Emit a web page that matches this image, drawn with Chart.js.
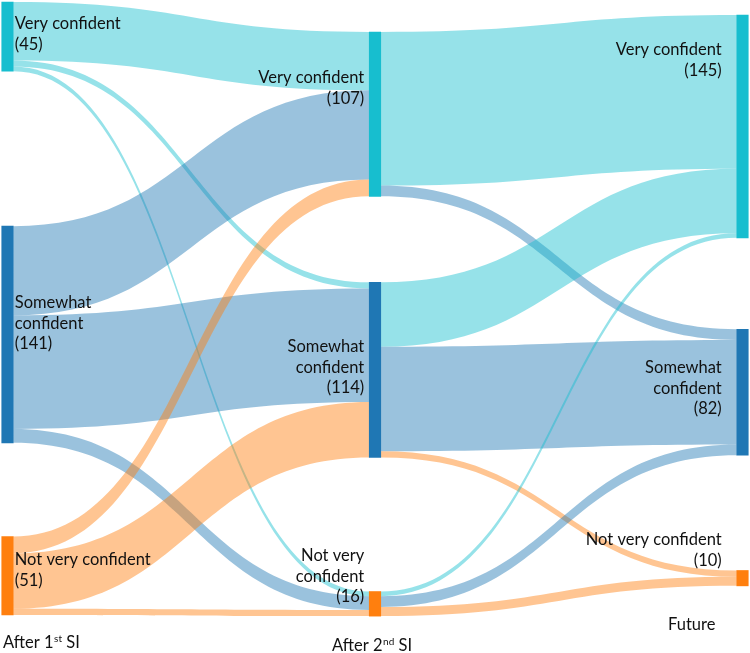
<!DOCTYPE html>
<html lang="en">
<head>
<meta charset="UTF-8">
<title>Confidence flow</title>
<script src="https://cdn.jsdelivr.net/npm/chart.js"></script>
<style>
    html, body { margin: 0; padding: 0; background: #ffffff; }
    #wrap { width: 750px; height: 653px; }
</style>
</head>
<body>
<div id="wrap"><canvas id="sankey" width="750" height="653"></canvas></div>
<script>
    // data
    const stages = ['After 1st SI', 'After 2nd SI', 'Future'];
    const levels = ['Very confident', 'Somewhat confident', 'Not very confident'];
    const totalsAfter1 = [45, 141, 51];
    const totalsAfter2 = [107, 114, 16];
    const totalsFuture = [145, 82, 10];
    // flows[from level][to level]
    const flows1to2 = [[38, 4, 3], [58, 74, 9], [11, 36, 4]];
    const flows2to3 = [[100, 7, 0], [42, 68, 4], [3, 7, 6]];

    // layout / style
    const colors = ['#17becf', '#1f77b4', '#ff7f0e'];
    const linkAlpha = 0.45;
    const nodeWidth = 11.5;
    const nodeTop = [[1.3, 147.2, 349.2], [20.8, 183.7, 385.0], [9.8, 214.3, 371.3]];
    const labelBase = [[29, 308, 565], [83, 352, 561], [55, 373, 545]];
    const labelDx = [1.5, -5, -15];
    const wrapName = [[false, true, false], [false, true, true], [false, true, false]];
    const stageLabelPos = [[3, 648], [332, 651], [668, 630]];
    const fontFamily = 'Lato, "Open Sans", sans-serif';
    const fontSize = 16.5;
    const lineHeight = 20.7;

    const totals = [totalsAfter1, totalsAfter2, totalsFuture];
    const flowSets = [flows1to2, flows2to3];

    let nodePoints = [];
    totals.forEach((col, s) => {
        col.forEach((v, i) => {
            nodePoints.push({ x: s, y: [nodeTop[s][i], nodeTop[s][i] + v], stage: s, level: i });
        });
    });

    function hexToRgba(hex, a) {
        let n = parseInt(hex.slice(1), 16);
        return 'rgba(' + (n >> 16) + ',' + ((n >> 8) & 255) + ',' + (n & 255) + ',' + a + ')';
    }

    const sankeyLinks = {
        id: 'sankeyLinks',
        beforeDatasetsDraw(chart) {
            const { ctx, scales: { x, y } } = chart;
            const half = nodeWidth / 2;
            ctx.save();
            flowSets.forEach((m, s) => {
                let srcOff = nodeTop[s].slice();
                let tgtOff = nodeTop[s + 1].slice();
                let x0 = x.getPixelForValue(s) + half;
                let x1 = x.getPixelForValue(s + 1) - half;
                let xm = (x0 + x1) / 2;
                m.forEach((row, i) => {
                    row.forEach((v, j) => {
                        if (!v) return;
                        let a0 = y.getPixelForValue(srcOff[i]);
                        let a1 = y.getPixelForValue(srcOff[i] + v);
                        let b0 = y.getPixelForValue(tgtOff[j]);
                        let b1 = y.getPixelForValue(tgtOff[j] + v);
                        srcOff[i] += v;
                        tgtOff[j] += v;
                        ctx.beginPath();
                        ctx.moveTo(x0, a0);
                        ctx.bezierCurveTo(xm, a0, xm, b0, x1, b0);
                        ctx.lineTo(x1, b1);
                        ctx.bezierCurveTo(xm, b1, xm, a1, x0, a1);
                        ctx.closePath();
                        // first step coloured by source, second by target
                        ctx.fillStyle = hexToRgba(colors[s === 0 ? i : j], linkAlpha);
                        ctx.fill();
                    });
                });
            });
            ctx.restore();
        },
        afterDatasetsDraw(chart) {
            const { ctx, scales: { x, y } } = chart;
            const half = nodeWidth / 2;
            ctx.save();
            ctx.fillStyle = '#111111';
            ctx.font = fontSize + 'px ' + fontFamily;
            ctx.textBaseline = 'alphabetic';
            totals.forEach((col, s) => {
                col.forEach((v, i) => {
                    let name = levels[i];
                    let lines = [];
                    if (wrapName[s][i]) {
                        let k = name.lastIndexOf(' ');
                        lines.push(name.slice(0, k), name.slice(k + 1));
                    } else {
                        lines.push(name);
                    }
                    lines.push('(' + v + ')');
                    let tx;
                    if (s === 0) {
                        ctx.textAlign = 'left';
                        tx = x.getPixelForValue(s) + half + labelDx[s];
                    } else {
                        ctx.textAlign = 'right';
                        tx = x.getPixelForValue(s) - half + labelDx[s];
                    }
                    lines.forEach((t, n) => {
                        ctx.fillText(t, tx, labelBase[s][i] + n * lineHeight);
                    });
                });
            });
            // stage captions with ordinal superscripts
            ctx.textAlign = 'left';
            stages.forEach((label, s) => {
                let [px, py] = stageLabelPos[s];
                let m = label.match(/^(.*?\d)(st|nd|rd|th)(.*)$/);
                ctx.font = fontSize + 'px ' + fontFamily;
                if (!m) {
                    ctx.fillText(label, px, py);
                    return;
                }
                ctx.fillText(m[1], px, py);
                px += ctx.measureText(m[1]).width;
                ctx.font = Math.round(fontSize * 0.62) + 'px ' + fontFamily;
                ctx.fillText(m[2], px + 0.5, py - 6);
                px += ctx.measureText(m[2]).width + 0.5;
                ctx.font = fontSize + 'px ' + fontFamily;
                ctx.fillText(m[3], px, py);
            });
            ctx.restore();
        }
    };

    let ctx = document.getElementById('sankey').getContext('2d');
    let sankeyChart = new Chart(ctx, {
        type: 'bar',
        data: {
            datasets: [{
                data: nodePoints,
                backgroundColor: nodePoints.map(p => colors[p.level]),
                barThickness: nodeWidth,
                borderWidth: 0,
                grouped: false
            }]
        },
        options: {
            responsive: false,
            animation: false,
            layout: { padding: 0 },
            plugins: {
                legend: { display: false },
                tooltip: { enabled: false }
            },
            scales: {
                x: { type: 'linear', display: false, offset: false, min: -0.0204, max: 2.0204 },
                y: { display: false, min: 0, max: 425, reverse: true }
            }
        },
        plugins: [sankeyLinks]
    });
</script>
</body>
</html>
